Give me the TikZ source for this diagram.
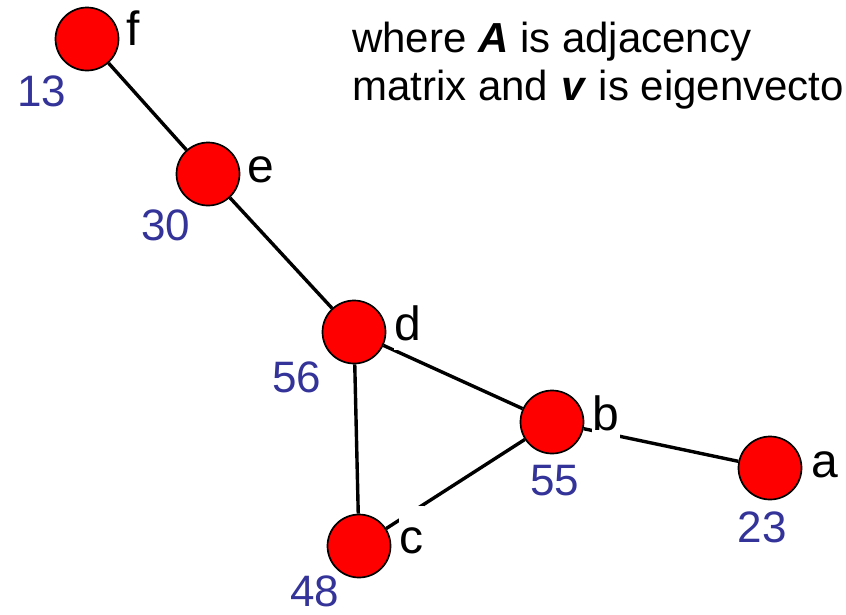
\documentclass[tikz,border=0pt]{standalone}
\usepackage{fontspec}
\setmainfont{Liberation Sans}
\definecolor{numblue}{RGB}{51,51,153}
\definecolor{nodered}{RGB}{255,0,0}
\begin{document}
\begin{tikzpicture}[x=1pt,y=-1pt,
  vertex/.style={circle,draw=black,line width=1.7pt,fill=nodered,minimum size=63pt,inner sep=0pt},
  edge/.style={draw=black,line width=3.4pt},
  letter/.style={anchor=base west,fill=white,inner sep=0.5pt,text height=47pt,text depth=9pt,font=\fontsize{48}{48}\selectfont},
  score/.style={anchor=base,inner sep=0pt,text=numblue,font=\fontsize{44}{44}\selectfont},
  caption/.style={anchor=base west,inner sep=0pt,font=\fontsize{42}{42}\selectfont}]
\useasboundingbox (0,0) rectangle (846,614);
\fill[white] (0,0) rectangle (846,614);
% vertices
\node[vertex] (f) at (87,39) {};
\node[vertex] (e) at (208,174) {};
\node[vertex] (d) at (354,332) {};
\node[vertex] (b) at (552,422) {};
\node[vertex] (a) at (770,468) {};
\node[vertex] (c) at (359,546) {};
% edges
\draw[edge] (f) -- (e);
\draw[edge] (e) -- (d);
\draw[edge] (d) -- (b);
\draw[edge] (d) -- (c);
\draw[edge] (c) -- (b);
\draw[edge] (b) -- (a);
% letter labels
\node[letter] (lf) at (126,45) {f};
\node[letter] (le) at (247,182) {e};
\node[letter] (ld) at (394,340) {d};
\node[letter] (lb) at (592,430) {b};
\node[letter] (la) at (811,477) {a};
\node[letter] (lc) at (399,553) {c};
% scores
\node[score] (sf) at (42,106) {13};
\node[score] (se) at (166,240) {30};
\node[score] (sd) at (297,392) {56};
\node[score] (sb) at (555,495) {55};
\node[score] (sa) at (762,542) {23};
\node[score] (sc) at (315,606) {48};
% caption
\node[caption] (t1) at (352,52) {where \textbf{\textit{A}} is adjacency};
\node[caption] (t2) at (352,100) {matrix and\hspace{2pt} \textbf{\textit{v}} is eigenvecto};
\end{tikzpicture}
\end{document}
